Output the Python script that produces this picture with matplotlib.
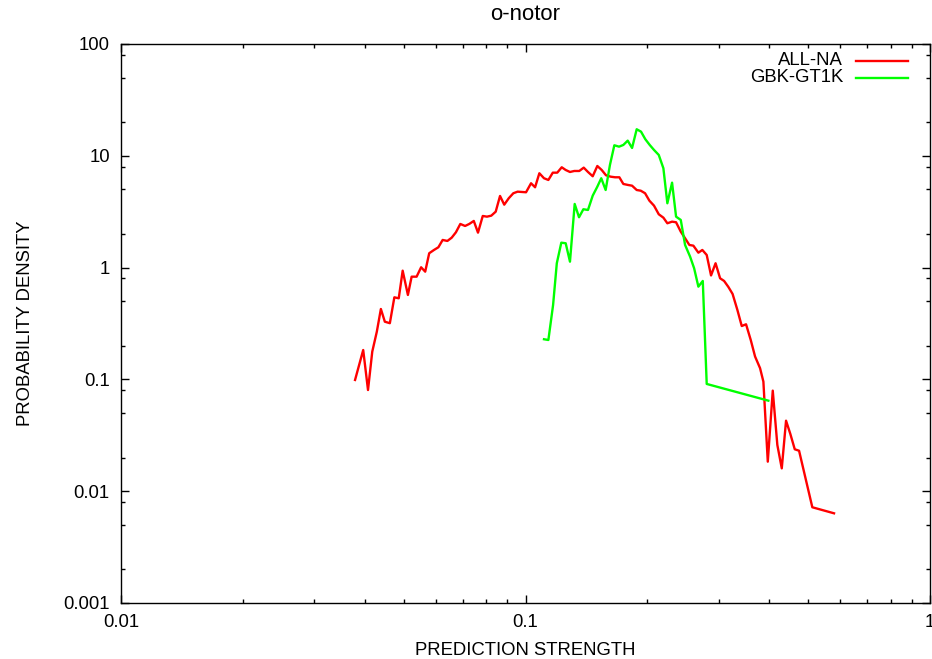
import matplotlib
matplotlib.use('Agg')
import matplotlib.pyplot as plt
from matplotlib.ticker import LogLocator, FuncFormatter, NullFormatter

plt.rcParams['font.family'] = ['Liberation Sans', 'DejaVu Sans']
plt.rcParams['font.size'] = 13.3

# ALL-NA
all_na_x = [0.0379, 0.0397, 0.0408, 0.0418, 0.0429, 0.0439, 0.0449, 0.0462, 0.0474, 0.0486,
            0.0497, 0.0512, 0.0523, 0.0538, 0.0552, 0.0565, 0.0578, 0.0594, 0.0609, 0.0624,
            0.0641, 0.0657, 0.0673, 0.0690, 0.0709, 0.0726, 0.0745, 0.0763, 0.0784, 0.0803,
            0.0823, 0.0844, 0.0865, 0.0886, 0.0909, 0.0933, 0.0956, 0.1003, 0.1032, 0.1056,
            0.1082, 0.1111, 0.1139, 0.1168, 0.1198, 0.1229, 0.1257, 0.1288, 0.1320, 0.1358,
            0.1393, 0.1427, 0.1466, 0.1505, 0.1543, 0.1581, 0.1624, 0.1665, 0.1706, 0.1745,
            0.1792, 0.1834, 0.1883, 0.1927, 0.1975, 0.2024, 0.2078, 0.2135, 0.2192, 0.2242,
            0.2303, 0.2356, 0.2420, 0.2480, 0.2541, 0.2600, 0.2675, 0.2736, 0.2805, 0.2875,
            0.2950, 0.3027, 0.3097, 0.3173, 0.3250, 0.3340, 0.3424, 0.3509, 0.3604, 0.3694,
            0.3800, 0.3873, 0.3971, 0.4085, 0.4193, 0.4300, 0.4406, 0.4515, 0.4630, 0.4745,
            0.5117, 0.5790]
all_na_y = [0.0988, 0.183, 0.0803, 0.177, 0.267, 0.426, 0.328, 0.318, 0.542, 0.531,
            0.938, 0.569, 0.829, 0.829, 1.006, 0.919, 1.343, 1.437, 1.519, 1.766,
            1.730, 1.851, 2.069, 2.455, 2.355, 2.455, 2.612, 2.052, 2.894, 2.853,
            2.912, 3.162, 4.37, 3.652, 4.168, 4.62, 4.774, 4.715, 5.675, 5.225,
            6.975, 6.293, 6.075, 7.06, 7.06, 7.89, 7.46, 7.16, 7.31, 7.31,
            7.83, 7.16, 6.556, 8.10, 7.46, 6.69, 6.50, 6.42, 6.42, 5.595,
            5.48, 5.40, 4.94, 4.87, 4.62, 3.967, 3.579, 2.997, 2.795, 2.49,
            2.574, 2.542, 2.095, 1.829, 1.593, 1.57, 1.359, 1.437, 1.296, 0.850,
            1.093, 0.802, 0.759, 0.671, 0.581, 0.418, 0.300, 0.311, 0.225, 0.160,
            0.126, 0.0954, 0.01836, 0.0793, 0.0259, 0.0160, 0.0427, 0.0325, 0.0237, 0.0230,
            0.00718, 0.00634]

# GBK-GT1K
gbk_x = [0.1111, 0.1139, 0.1170, 0.1195, 0.1226, 0.1257, 0.1288, 0.1323, 0.1356, 0.1390,
         0.1427, 0.1466, 0.1505, 0.1539, 0.1578, 0.1617, 0.1658, 0.1703, 0.1745, 0.1789,
         0.1834, 0.1883, 0.1930, 0.1978, 0.2028, 0.2078, 0.2135, 0.2192, 0.2242, 0.2303,
         0.2356, 0.2420, 0.2480, 0.2552, 0.2611, 0.2675, 0.2743, 0.2805, 0.3984]
gbk_y = [0.2285, 0.225, 0.463, 1.093, 1.670, 1.650, 1.129, 3.706, 2.818, 3.323,
         3.275, 4.397, 5.29, 6.293, 4.94, 8.275, 12.41, 12.06, 12.49, 13.65,
         11.74, 17.26, 16.43, 14.05, 12.49, 11.27, 10.17, 7.73, 3.759, 5.746,
         2.853, 2.666, 1.593, 1.252, 0.986, 0.675, 0.759, 0.0910, 0.0645]

series_names = ['ALL-NA', 'GBK-GT1K']
series_colors = ['#ff0000', '#00ff00']

fig = plt.figure(figsize=(9.32, 6.59), dpi=100)
ax = fig.add_axes([0.1298, 0.085, 0.8681, 0.8483])

ax.plot(all_na_x, all_na_y, color=series_colors[0], lw=1.7)
ax.plot(gbk_x, gbk_y, color=series_colors[1], lw=1.7)

ax.set_xscale('log')
ax.set_yscale('log')
ax.set_xlim(0.01, 1)
ax.set_ylim(0.001, 100)

ax.xaxis.set_major_locator(LogLocator(base=10, numticks=10))
ax.xaxis.set_minor_locator(LogLocator(base=10, subs=range(2, 10), numticks=20))
ax.yaxis.set_major_locator(LogLocator(base=10, numticks=10))
ax.yaxis.set_minor_locator(LogLocator(base=10, subs=[2, 5, 8], numticks=20))
fmt = FuncFormatter(lambda v, p: '%g' % v)
ax.xaxis.set_major_formatter(fmt)
ax.yaxis.set_major_formatter(fmt)
ax.xaxis.set_minor_formatter(NullFormatter())
ax.yaxis.set_minor_formatter(NullFormatter())

ax.tick_params(which='both', direction='in', top=True, right=True, width=1.0)
ax.tick_params(which='major', length=6, pad=8)
ax.tick_params(which='minor', length=3)
for s in ax.spines.values():
    s.set_linewidth(1.0)

ax.set_title('o-notor', pad=17)
ax.set_xlabel('PREDICTION STRENGTH', labelpad=8)
ax.set_ylabel('PROBABILITY DENSITY', labelpad=21)

# gnuplot-style key: right-aligned labels with sample lines after them
key_rows = [0.9696, 0.9392]
for name, col, ky in zip(series_names, series_colors, key_rows):
    ax.text(0.8925, ky, name, transform=ax.transAxes, ha='right', va='center')
    ax.plot([0.9085, 0.9728], [ky, ky], transform=ax.transAxes, color=col, lw=1.7)

fig.savefig('out.png', dpi=100)
